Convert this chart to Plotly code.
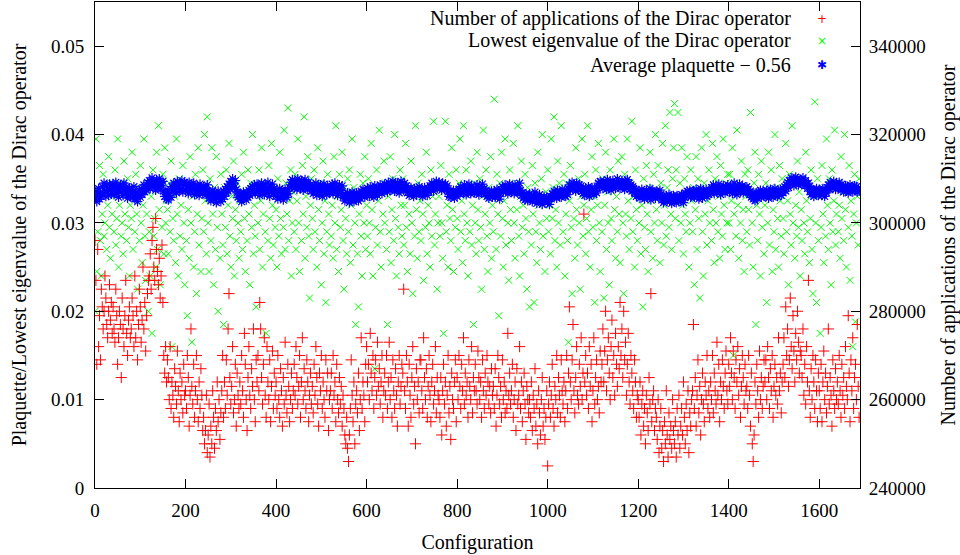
import plotly.graph_objects as go

# Sampled every 2nd configuration (0, 2, 4, ...)
# Number of applications of the Dirac operator, in units of 100
applications_h = [
    2960, 2870, 2680, 2940, 2720, 2790, 2690, 2850, 2810, 2760, 2800, 2880, 2830, 2770, 2740, 2800, 2860, 2780, 2820, 2750,
    2810, 2760, 2730, 2850, 2790, 2680, 2740, 2800, 2770, 2650, 2830, 2760, 2720, 2790, 2870, 2750, 2700, 2780, 2810, 2740,
    2760, 2830, 2790, 2720, 2880, 2740, 2800, 2690, 2770, 2850, 2810, 2730, 2780, 2900, 2760, 2820, 2710, 2790, 2840, 2870,
    2880, 2930, 2850, 2960, 2990, 2900, 2870, 3010, 2940, 2890, 2860, 2920, 2830, 2880, 2950, 2820, 2700, 2660, 2720, 2640,
    2690, 2650, 2600, 2720, 2580, 2640, 2610, 2560, 2670, 2630, 2590, 2710, 2620, 2550, 2660, 2600, 2640, 2570, 2680, 2610,
    2620, 2580, 2700, 2650, 2540, 2610, 2760, 2630, 2590, 2680, 2560, 2620, 2700, 2600, 2550, 2640, 2580, 2670, 2610, 2530,
    2560, 2500, 2530, 2610, 2480, 2520, 2590, 2470, 2540, 2500, 2620, 2560, 2490, 2580, 2530, 2640, 2550, 2600, 2510, 2570,
    2620, 2700, 2560, 2640, 2580, 2690, 2610, 2760, 2840, 2650, 2590, 2630, 2720, 2570, 2600, 2680, 2540, 2660, 2610, 2580,
    2640, 2590, 2700, 2620, 2560, 2750, 2680, 2600, 2530, 2650, 2720, 2610, 2580, 2670, 2630, 2760, 2600, 2550, 2690, 2640,
    2700, 2620, 2820, 2760, 2650, 2590, 2680, 2740, 2610, 2560, 2720, 2640, 2600, 2690, 2550, 2630, 2710, 2580, 2660, 2610,
    2640, 2580, 2700, 2600, 2560, 2670, 2620, 2540, 2650, 2590, 2730, 2610, 2570, 2680, 2630, 2550, 2600, 2660, 2580, 2620,
    2680, 2610, 2720, 2650, 2590, 2630, 2700, 2560, 2640, 2740, 2600, 2670, 2620, 2580, 2690, 2640, 2550, 2610, 2660, 2590,
    2630, 2570, 2680, 2610, 2720, 2650, 2590, 2540, 2660, 2620, 2700, 2580, 2640, 2600, 2560, 2690, 2620, 2660, 2530, 2600,
    2620, 2660, 2580, 2700, 2610, 2640, 2550, 2680, 2600, 2570, 2650, 2590, 2630, 2540, 2610, 2580, 2520, 2500, 2560, 2490,
    2460, 2520, 2580, 2690, 2610, 2550, 2640, 2500, 2590, 2620, 2570, 2660, 2530, 2600, 2740, 2580, 2640, 2610, 2550, 2680,
    2720, 2640, 2680, 2600, 2750, 2660, 2620, 2700, 2580, 2650, 2690, 2610, 2730, 2630, 2670, 2590, 2640, 2700, 2560, 2620,
    2660, 2610, 2700, 2580, 2640, 2730, 2600, 2650, 2560, 2690, 2620, 2580, 2670, 2610, 2540, 2640, 2700, 2590, 2630, 2680,
    2660, 2850, 2620, 2580, 2700, 2640, 2540, 2680, 2610, 2560, 2650, 2720, 2590, 2630, 2500, 2670, 2600, 2640, 2570, 2690,
    2690, 2620, 2580, 2740, 2650, 2600, 2670, 2560, 2630, 2700, 2610, 2550, 2640, 2680, 2590, 2620, 2720, 2570, 2650, 2610,
    2600, 2560, 2650, 2520, 2620, 2680, 2590, 2640, 2540, 2610, 2700, 2570, 2630, 2510, 2660, 2600, 2580, 2640, 2690, 2550,
    2650, 2600, 2700, 2630, 2580, 2680, 2620, 2740, 2590, 2660, 2610, 2640, 2560, 2690, 2630, 2600, 2720, 2570, 2650, 2620,
    2680, 2620, 2590, 2710, 2650, 2600, 2640, 2560, 2690, 2620, 2580, 2660, 2610, 2700, 2640, 2590, 2630, 2570, 2670, 2610,
    2630, 2580, 2670, 2540, 2610, 2700, 2650, 2590, 2630, 2560, 2690, 2600, 2640, 2570, 2620, 2580, 2750, 2610, 2660, 2590,
    2620, 2680, 2560, 2600, 2640, 2530, 2670, 2590, 2610, 2720, 2580, 2640, 2550, 2620, 2660, 2590, 2510, 2630, 2600, 2570,
    2600, 2560, 2640, 2530, 2610, 2580, 2670, 2540, 2590, 2500, 2620, 2570, 2520, 2600, 2650, 2540, 2580, 2510, 2560, 2620,
    2450, 2590, 2640, 2560, 2610, 2680, 2580, 2540, 2630, 2600, 2700, 2570, 2650, 2610, 2560, 2690, 2620, 2590, 2640, 2550,
    2620, 2700, 2580, 2660, 2810, 2640, 2600, 2690, 2770, 2620, 2570, 2650, 2720, 2610, 2590, 2680, 2630, 2740, 2600, 2660,
    3020, 2640, 2700, 2610, 2660, 2580, 2720, 2630, 2680, 2550, 2620, 2740, 2590, 2650, 2690, 2600, 2630, 2570, 2710, 2640,
    2680, 2760, 2640, 2710, 2800, 2620, 2690, 2740, 2660, 2600, 2720, 2780, 2650, 2700, 2610, 2750, 2680, 2630, 2720, 2670,
    2820, 2700, 2760, 2650, 2800, 2690, 2730, 2610, 2680, 2750, 2640, 2590, 2700, 2660, 2620, 2580, 2690, 2640, 2560, 2610,
    2600, 2560, 2640, 2520, 2590, 2620, 2540, 2580, 2500, 2610, 2570, 2530, 2650, 2590, 2840, 2550, 2600, 2620, 2530, 2580,
    2560, 2510, 2600, 2480, 2540, 2580, 2490, 2530, 2460, 2550, 2500, 2620, 2520, 2470, 2570, 2510, 2540, 2490, 2600, 2530,
    2500, 2550, 2470, 2580, 2520, 2610, 2490, 2540, 2580, 2520, 2640, 2560, 2500, 2590, 2530, 2620, 2480, 2570, 2540, 2600,
    2620, 2770, 2580, 2650, 2540, 2610, 2690, 2570, 2630, 2520, 2600, 2660, 2590, 2550, 2640, 2610, 2700, 2580, 2620, 2560,
    2640, 2600, 2700, 2570, 2660, 2620, 2590, 2730, 2610, 2680, 2550, 2640, 2600, 2690, 2630, 2580, 2660, 2710, 2620, 2590,
    2680, 2630, 2740, 2660, 2600, 2710, 2650, 2580, 2690, 2640, 2720, 2610, 2670, 2560, 2630, 2700, 2650, 2590, 2680, 2620,
    2630, 2580, 2700, 2610, 2540, 2660, 2500, 2460, 2520, 2640, 2590, 2680, 2620, 2560, 2710, 2600, 2650, 2580, 2630, 2690,
    2640, 2690, 2600, 2720, 2650, 2580, 2670, 2620, 2700, 2560, 2630, 2680, 2610, 2650, 2590, 2740, 2620, 2660, 2570, 2640,
    2680, 2740, 2650, 2810, 2700, 2760, 2630, 2690, 2830, 2720, 2670, 2790, 2710, 2640, 2750, 2690, 2800, 2730, 2660, 2710,
    2700, 2650, 2760, 2610, 2680, 2590, 2720, 2640, 2870, 2620, 2560, 2670, 2600, 2700, 2640, 2580, 2690, 2620, 2550, 2660,
    2620, 2580, 2680, 2550, 2640, 2710, 2600, 2660, 2570, 2630, 2760, 2590, 2650, 2610, 2540, 2690, 2620, 2580, 2670, 2600,
    2640, 2590, 2700, 2620, 2560, 2680, 2610, 2650, 2580, 2720, 2630, 2600, 2790, 2660, 2550, 2690, 2620, 2740, 2580, 2650,
    2680, 2600, 2770, 2630, 2560,
]

# Lowest eigenvalue of the Dirac operator, in units of 1e-4
lowest_eig_e4 = [
    200, 395, 245, 290, 330, 365, 280, 240, 310, 355, 285, 300, 340, 270, 320, 375, 295, 260, 345, 310,
    330, 290, 360, 275, 305, 395, 250, 320, 345, 285, 300, 265, 370, 310, 335, 280, 350, 295, 240, 320,
    305, 380, 270, 330, 290, 355, 310, 225, 340, 280, 365, 300, 255, 320, 395, 285, 235, 310, 345, 200,
    290, 240, 330, 175, 360, 285, 305, 250, 380, 270, 410, 315, 230, 340, 295, 355, 265, 385, 300, 325,
    315, 265, 345, 290, 370, 160, 305, 280, 330, 255, 395, 310, 240, 350, 285, 320, 270, 365, 300, 230,
    340, 280, 195, 315, 260, 375, 300, 165, 330, 250, 290, 355, 220, 310, 385, 275, 335, 245, 305, 360,
    290, 400, 325, 265, 420, 300, 245, 350, 280, 385, 310, 230, 340, 270, 375, 295, 200, 330, 260, 355,
    310, 275, 185, 340, 295, 360, 265, 320, 390, 285, 250, 330, 305, 370, 240, 315, 280, 345, 300, 260,
    325, 290, 355, 270, 380, 305, 245, 335, 280, 360, 310, 230, 345, 295, 400, 265, 320, 285, 205, 340,
    300, 360, 270, 325, 385, 250, 310, 345, 290, 175, 335, 280, 365, 305, 260, 390, 320, 275, 340, 295,
    315, 250, 350, 285, 380, 305, 265, 330, 295, 405, 270, 345, 310, 430, 280, 325, 360, 240, 300, 335,
    290, 355, 270, 325, 395, 300, 245, 340, 280, 365, 310, 420, 260, 330, 295, 375, 285, 215, 320, 350,
    305, 270, 360, 290, 335, 250, 385, 315, 280, 345, 230, 300, 370, 265, 325, 210, 290, 355, 310, 275,
    340, 285, 320, 260, 375, 300, 410, 270, 330, 245, 355, 295, 315, 380, 280, 225, 340, 305, 265, 350,
    290, 360, 255, 320, 395, 275, 340, 300, 185, 330, 265, 205, 310, 355, 285, 240, 345, 300, 375, 270,
    320, 285, 350, 300, 265, 390, 315, 240, 340, 135, 295, 360, 275, 325, 405, 290, 250, 335, 310, 370,
    300, 345, 270, 185, 330, 290, 375, 255, 315, 350, 280, 400, 305, 240, 335, 295, 265, 360, 320, 285,
    350, 275, 320, 390, 295, 245, 340, 310, 265, 370, 300, 220, 335, 285, 410, 315, 260, 345, 290, 325,
    280, 355, 310, 235, 340, 295, 380, 265, 320, 300, 250, 360, 285, 330, 415, 275, 310, 345, 225, 300,
    330, 285, 365, 300, 260, 175, 340, 415, 290, 320, 250, 355, 305, 280, 385, 315, 245, 335, 295, 360,
    305, 270, 345, 395, 290, 325, 255, 410, 310, 280, 360, 300, 240, 335, 290, 370, 275, 320, 185, 345,
    300, 265, 380, 315, 280, 350, 295, 225, 330, 405, 270, 310, 360, 285, 245, 340, 300, 375, 260, 320,
    290, 440, 330, 270, 355, 310, 195, 345, 285, 380, 305, 250, 325, 395, 275, 340, 300, 235, 360, 315,
    280, 335, 390, 300, 260, 345, 315, 410, 285, 240, 330, 370, 295, 320, 265, 355, 305, 225, 340, 290,
    205, 330, 275, 365, 310, 210, 345, 290, 255, 380, 320, 300, 270, 350, 400, 285, 325, 245, 335, 305,
    360, 290, 320, 265, 395, 305, 340, 420, 280, 315, 250, 370, 300, 345, 275, 410, 330, 290, 355, 240,
    310, 345, 280, 165, 325, 365, 295, 220, 340, 305, 260, 385, 315, 275, 350, 300, 225, 330, 395, 285,
    320, 355, 265, 305, 410, 290, 340, 250, 315, 375, 295, 330, 210, 360, 280, 320, 390, 300, 245, 345,
    290, 350, 215, 320, 380, 270, 335, 300, 230, 360, 305, 280, 345, 395, 315, 260, 330, 290, 370, 310,
    255, 340, 375, 300, 220, 355, 310, 285, 395, 325, 270, 345, 305, 415, 290, 330, 250, 360, 315, 280,
    335, 300, 385, 265, 320, 205, 350, 295, 270, 365, 310, 245, 340, 380, 290, 325, 260, 355, 300, 400,
    315, 280, 365, 330, 255, 345, 300, 390, 275, 320, 410, 285, 340, 360, 295, 425, 310, 270, 350, 385,
    435, 305, 360, 330, 425, 280, 345, 300, 385, 320, 265, 350, 310, 290, 375, 335, 250, 300, 360, 325,
    290, 340, 230, 315, 375, 270, 350, 305, 215, 330, 385, 290, 240, 345, 310, 400, 275, 325, 360, 300,
    335, 280, 390, 315, 255, 350, 300, 375, 290, 330, 260, 365, 310, 285, 395, 320, 270, 345, 300, 355,
    300, 355, 270, 325, 385, 150, 310, 345, 285, 405, 320, 260, 340, 300, 370, 280, 315, 245, 355, 330,
    290, 360, 315, 275, 425, 335, 300, 250, 345, 380, 185, 320, 280, 355, 310, 240, 370, 295, 335, 265,
    320, 345, 210, 300, 380, 275, 330, 360, 245, 315, 290, 400, 270, 340, 305, 250, 365, 325, 285, 350,
    305, 265, 340, 390, 290, 325, 230, 355, 310, 275, 410, 300, 345, 260, 320, 285, 370, 295, 335, 240,
    315, 280, 350, 300, 265, 380, 325, 290, 345, 255, 305, 360, 270, 220, 335, 437, 300, 210, 350, 280,
    330, 175, 295, 365, 310, 255, 340, 285, 395, 320, 270, 350, 300, 230, 360, 290, 325, 405, 275, 310,
    345, 290, 320, 260, 375, 305, 335, 280, 400, 315, 250, 340, 295, 365, 235, 325, 285, 160, 310, 355,
    188, 300, 330, 275, 350,
]

# Average plaquette - 0.56, in units of 1e-4
plaquette_e4 = [
    328, 336, 324, 333, 339, 327, 334, 330, 341, 333, 345, 336, 330, 342, 338, 331, 344, 337, 333, 340,
    344, 332, 339, 346, 334, 341, 329, 338, 343, 335, 340, 331, 345, 337, 333, 341, 328, 336, 339, 330,
    338, 329, 335, 341, 327, 334, 331, 324, 333, 337, 329, 339, 332, 336, 343, 335, 340, 337, 346, 341,
    348, 339, 345, 351, 340, 346, 343, 337, 349, 344, 341, 350, 338, 346, 342, 347, 336, 330, 335, 327,
    334, 326, 331, 338, 329, 341, 335, 345, 338, 343, 334, 347, 340, 336, 344, 339, 348, 335, 342, 346,
    337, 344, 339, 333, 346, 341, 336, 343, 338, 345, 332, 340, 335, 342, 338, 331, 344, 336, 340, 333,
    341, 335, 339, 332, 343, 336, 328, 333, 325, 331, 337, 327, 334, 329, 323, 332, 336, 328, 330, 324,
    333, 327, 336, 330, 338, 334, 341, 336, 344, 339, 347, 342, 350, 345, 340, 348, 338, 334, 329, 333,
    327, 333, 324, 330, 335, 328, 332, 326, 334, 329, 337, 331, 339, 334, 341, 336, 343, 333, 338, 344,
    335, 342, 331, 339, 345, 336, 340, 332, 343, 337, 334, 346, 338, 330, 341, 336, 344, 333, 339, 335,
    330, 337, 327, 334, 339, 329, 336, 331, 326, 335, 338, 332, 329, 336, 333, 340, 346, 342, 349, 344,
    340, 347, 344, 338, 350, 342, 346, 339, 348, 343, 337, 345, 349, 341, 344, 338, 346, 340, 343, 336,
    339, 333, 342, 336, 345, 331, 338, 341, 334, 343, 336, 330, 340, 344, 335, 339, 332, 342, 337, 334,
    341, 336, 344, 333, 339, 345, 335, 340, 331, 338, 343, 334, 337, 342, 329, 333, 325, 331, 327, 334,
    328, 323, 332, 326, 335, 329, 324, 331, 327, 334, 330, 325, 333, 328, 336, 331, 338, 333, 329, 337,
    332, 339, 335, 330, 341, 336, 333, 338, 329, 342, 334, 337, 331, 340, 335, 343, 338, 333, 341, 336,
    344, 338, 342, 335, 346, 340, 337, 343, 339, 347, 341, 336, 344, 338, 345, 340, 334, 342, 347, 339,
    343, 337, 345, 339, 342, 334, 338, 331, 336, 340, 333, 337, 330, 339, 335, 332, 338, 334, 341, 336,
    333, 338, 330, 336, 340, 334, 337, 331, 339, 335, 342, 338, 345, 340, 336, 344, 341, 347, 339, 343,
    346, 340, 343, 337, 345, 341, 338, 344, 339, 342, 335, 330, 336, 329, 334, 331, 337, 328, 333, 336,
    330, 335, 338, 333, 341, 336, 339, 334, 343, 337, 332, 340, 335, 344, 338, 333, 341, 336, 339, 334,
    340, 335, 343, 337, 332, 341, 338, 334, 344, 336, 339, 333, 337, 330, 335, 328, 334, 331, 336, 329,
    332, 336, 329, 334, 338, 330, 335, 327, 333, 337, 341, 335, 339, 343, 336, 340, 333, 338, 344, 337,
    335, 341, 338, 333, 343, 336, 340, 334, 339, 345, 337, 331, 334, 328, 332, 326, 333, 329, 325, 331,
    333, 327, 330, 324, 331, 328, 335, 329, 322, 330, 326, 332, 324, 328, 321, 327, 330, 323, 326, 329,
    324, 328, 321, 330, 327, 333, 329, 336, 331, 334, 328, 337, 332, 330, 335, 329, 338, 333, 331, 336,
    330, 335, 332, 339, 343, 337, 341, 346, 338, 344, 340, 336, 345, 341, 337, 343, 339, 342, 336, 333,
    337, 331, 339, 334, 336, 341, 330, 338, 333, 340, 335, 332, 339, 336, 334, 340, 345, 341, 347, 343,
    345, 339, 347, 341, 344, 338, 349, 343, 340, 346, 337, 344, 348, 341, 345, 339, 343, 350, 342, 346,
    339, 345, 348, 341, 344, 338, 347, 343, 349, 340, 345, 338, 343, 336, 341, 339, 334, 337, 330, 335,
    331, 336, 328, 334, 338, 330, 335, 327, 333, 337, 329, 334, 331, 339, 326, 332, 336, 330, 335, 328,
    336, 331, 334, 329, 337, 332, 326, 330, 323, 329, 326, 331, 324, 328, 332, 325, 330, 322, 327, 331,
    325, 329, 323, 331, 327, 324, 330, 326, 332, 328, 323, 329, 334, 331, 336, 330, 333, 337, 329, 335,
    331, 336, 329, 334, 338, 330, 335, 327, 333, 339, 332, 328, 336, 331, 334, 338, 330, 335, 332, 337,
    334, 340, 336, 343, 333, 338, 341, 335, 339, 344, 337, 332, 340, 336, 342, 338, 334, 341, 337, 343,
    339, 335, 342, 337, 333, 340, 345, 336, 338, 332, 341, 337, 344, 335, 339, 342, 334, 338, 340, 336,
    341, 335, 338, 332, 336, 329, 333, 327, 331, 325, 330, 334, 328, 335, 331, 337, 329, 333, 336, 330,
    335, 330, 337, 332, 328, 334, 338, 331, 336, 329, 333, 339, 332, 335, 330, 336, 333, 338, 331, 335,
    334, 338, 341, 336, 343, 346, 340, 348, 344, 351, 345, 349, 342, 347, 352, 346, 350, 343, 348, 345,
    349, 344, 351, 346, 342, 348, 344, 339, 345, 341, 336, 332, 338, 334, 330, 337, 333, 339, 335, 331,
    338, 333, 336, 331, 339, 335, 330, 337, 334, 340, 343, 338, 346, 341, 344, 339, 347, 342, 338, 345,
    343, 339, 346, 340, 337, 344, 341, 335, 339, 342, 336, 340, 334, 338, 343, 337, 341, 335, 339, 342,
    337, 341, 335, 339, 336,
]

x_tick_vals = [0, 200, 400, 600, 800, 1000, 1200, 1400, 1600]
y_tick_vals = [0, 0.01, 0.02, 0.03, 0.04, 0.05]
y_tick_text = ["0", "0.01", "0.02", "0.03", "0.04", "0.05"]
y2_tick_vals = [240000, 260000, 280000, 300000, 320000, 340000]
y2_tick_text = ["240000", "260000", "280000", "300000", "320000", "340000"]

STEP = 2
cfg_red = list(range(0, STEP * len(applications_h), STEP))
cfg_green = list(range(0, STEP * len(lowest_eig_e4), STEP))
cfg_blue = list(range(0, STEP * len(plaquette_e4), STEP))

applications = [v * 100 for v in applications_h]
lowest_eig = [v * 1e-4 for v in lowest_eig_e4]
plaquette = [v * 1e-4 for v in plaquette_e4]

FONT = "Liberation Serif, Times New Roman, serif"
TICK_SIZE = 19
TEXT_SIZE = 20

fig = go.Figure()
fig.add_trace(go.Scatter(
    x=cfg_green, y=lowest_eig, mode="markers", yaxis="y",
    name="Lowest eigenvalue of the Dirac operator",
    marker=dict(symbol="x-thin", size=7, color="#00ff00", line=dict(width=1, color="#00ff00")),
))
fig.add_trace(go.Scatter(
    x=cfg_blue, y=plaquette, mode="markers", yaxis="y",
    name="Average plaquette − 0.56",
    marker=dict(symbol="asterisk-open", size=8, color="#0000ff", line=dict(width=1.2, color="#0000ff")),
))
fig.add_trace(go.Scatter(
    x=cfg_red, y=applications, mode="markers", yaxis="y2",
    name="Number of applications of the Dirac operator",
    marker=dict(symbol="cross-thin", size=8, color="#ff0000", line=dict(width=1, color="#ff0000")),
))

axis_common = dict(
    showline=True, linecolor="black", linewidth=1, showgrid=False, zeroline=False,
    ticks="inside", ticklen=9, tickwidth=1, tickcolor="black",
    tickfont=dict(family=FONT, size=TICK_SIZE, color="black"),
)

fig.update_layout(
    width=960, height=555,
    margin=dict(l=95, r=100, t=2, b=67),
    plot_bgcolor="white", paper_bgcolor="white",
    showlegend=False,
    font=dict(family=FONT, size=TEXT_SIZE, color="black"),
    xaxis=dict(
        range=[0, 1690], tickvals=x_tick_vals, mirror="ticks",
        ticklabelstandoff=5,
        title=dict(text="Configuration", standoff=15, font=dict(family=FONT, size=TEXT_SIZE)),
        **axis_common,
    ),
    yaxis=dict(
        range=[0, 0.055], tickvals=y_tick_vals, ticktext=y_tick_text, mirror=False,
        ticklabelstandoff=6,
        title=dict(text="Plaquette/Lowest eigenvalue of the Dirac operator", standoff=18,
                   font=dict(family=FONT, size=TEXT_SIZE)),
        **axis_common,
    ),
    yaxis2=dict(
        overlaying="y", side="right", range=[240000, 350000],
        tickvals=y2_tick_vals, ticktext=y2_tick_text,
        ticklabelstandoff=4,
        title=dict(text="Number of applications of the Dirac operator", standoff=19,
                   font=dict(family=FONT, size=TEXT_SIZE)),
        **axis_common,
    ),
)

# Legend (gnuplot style: right-aligned text, sample symbol to the right)
legend_rows = [
    ("Number of applications of the Dirac operator", "+", "#ff0000", 0.966),
    ("Lowest eigenvalue of the Dirac operator", "×", "#00ff00", 0.920),
    ("Average plaquette − 0.56", "✱", "#0000ff", 0.870),
]
for label, sym, col, yy in legend_rows:
    fig.add_annotation(x=0.913, y=yy, xref="paper", yref="paper", text=label,
                       showarrow=False, xanchor="right", yanchor="middle",
                       font=dict(family=FONT, size=TEXT_SIZE, color="black"))
    fig.add_annotation(x=0.950, y=yy, xref="paper", yref="paper", text=sym,
                       showarrow=False, xanchor="center", yanchor="middle",
                       font=dict(family="DejaVu Sans", size=12, color=col))

fig.write_html("out.html", config={"displayModeBar": False},
               post_script="document.body.style.margin='0px';")
